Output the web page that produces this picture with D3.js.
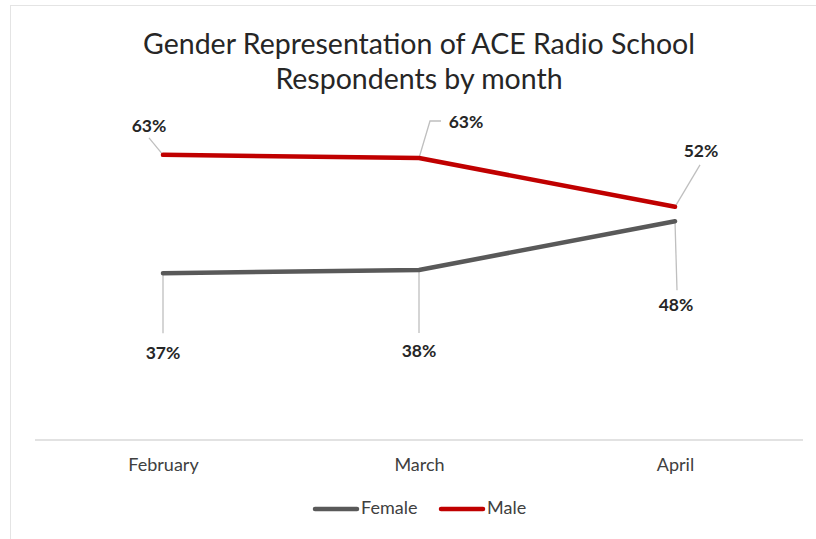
<!DOCTYPE html>
<html>
<head>
<meta charset="utf-8">
<script src="https://cdn.jsdelivr.net/npm/d3@7"></script>
<style>
  body { margin: 0; background: #fff; }
  svg { display: block; }
</style>
</head>
<body>
<div class="center"></div>
<script>
// chart data
const months = ["February", "March", "April"];
const female = [36.8, 37.5, 48.4];
const male = [63.2, 62.5, 51.6];
const femaleLabels = ["37%", "38%", "48%"];
const maleLabels = ["63%", "63%", "52%"];
const titleLines = ["Gender Representation of ACE Radio School", "Respondents by month"];

const W = 816, H = 539;
const plot = {left: 35, right: 803, top: 125, bottom: 440};

const font = "Lato, 'Open Sans', sans-serif";

const svg = d3.select(".center").append("svg")
              .attr("width", W)
              .attr("height", H);

// faint outer frame
svg.append("line").attr("x1", 10).attr("x2", W).attr("y1", 5.5).attr("y2", 5.5)
   .style("stroke", "#e4e4e4");
svg.append("line").attr("x1", 10.5).attr("x2", 10.5).attr("y1", 5).attr("y2", H)
   .style("stroke", "#e4e4e4");

// scales
const xScale = d3.scalePoint().domain(months).range([plot.left, plot.right]).padding(0.5);
const yScale = d3.scaleLinear().domain([0, 70]).range([plot.bottom - 2, plot.bottom - 2 - 70 * 4.48]);

// title
svg.append("text")
   .attr("x", 419)
   .attr("y", 54)
   .attr("text-anchor", "middle")
   .style("font-family", font)
   .style("font-size", "28.5px")
   .style("fill", "#262626")
   .selectAll("tspan")
   .data(titleLines)
   .enter().append("tspan")
   .attr("x", 419)
   .attr("dy", (d, i) => i === 0 ? 0 : 35)
   .text(d => d);

// x axis
const xAxis = d3.axisBottom(xScale).tickSize(0).tickPadding(18);
const gx = svg.append("g").attr("transform", `translate(0, ${plot.bottom})`).call(xAxis);
gx.select(".domain").attr("d", `M${plot.left},0H${plot.right}`).style("stroke", "#d9d9d9").style("stroke-width", 1.3);
gx.selectAll("text")
  .style("font-family", font)
  .style("font-size", "18px")
  .style("fill", "#404040");

// lines
const series = [
  {name: "Female", values: female, labels: femaleLabels, color: "#595959"},
  {name: "Male", values: male, labels: maleLabels, color: "#c00000"}
];

const line = d3.line()
               .x((d, i) => xScale(months[i]))
               .y(d => yScale(d));

// leader line offsets (label position relative to point)
const leaders = {
  Male: [
    {pts: [[0, 0], [-14, -17]], lx: -14, ly: -27},
    {pts: [[0, 0], [11, -37], [22, -37]], lx: 47, ly: -34},
    {pts: [[0, 0], [25, -42]], lx: 26, ly: -54}
  ],
  Female: [
    {pts: [[0, 0], [0, 60]], lx: 0, ly: 81},
    {pts: [[0, 0], [0, 63]], lx: 0, ly: 83},
    {pts: [[0, 0], [2, 69]], lx: 1, ly: 85}
  ]
};

series.forEach(s => {
  s.values.forEach((v, i) => {
    const cx = xScale(months[i]), cy = yScale(v);
    const ld = leaders[s.name][i];
    svg.append("path")
       .attr("d", d3.line()(ld.pts.map(p => [cx + p[0], cy + p[1]])))
       .style("fill", "none")
       .style("stroke", "#bfbfbf")
       .style("stroke-width", 1.3);
    svg.append("text")
       .attr("x", cx + ld.lx)
       .attr("y", cy + ld.ly)
       .attr("text-anchor", "middle")
       .attr("dominant-baseline", "middle")
       .style("font-family", font)
       .style("font-size", "17.5px")
       .style("font-weight", "700")
       .style("fill", "#262626")
       .text(s.labels[i]);
  });
});

series.forEach(s => {
  svg.append("path")
     .datum(s.values)
     .attr("d", line)
     .style("fill", "none")
     .style("stroke", s.color)
     .style("stroke-width", 4.5)
     .style("stroke-linejoin", "round")
     .style("stroke-linecap", "round");
});

// legend
const legend = svg.append("g").attr("transform", "translate(315, 509)");
const legendItems = legend.selectAll(".legend-item")
                          .data(series)
                          .enter().append("g")
                          .attr("class", "legend-item")
                          .attr("transform", (d, i) => `translate(${i * 126}, 0)`);
legendItems.append("line")
   .attr("x1", 0).attr("x2", 42)
   .attr("y1", 0).attr("y2", 0)
   .style("stroke", d => d.color)
   .style("stroke-width", 4.5)
   .style("stroke-linecap", "round");
legendItems.append("text")
   .attr("x", 46)
   .attr("y", 0)
   .attr("dominant-baseline", "middle")
   .style("font-family", font)
   .style("font-size", "18px")
   .style("fill", "#404040")
   .text(d => d.name);
</script>
</body>
</html>
